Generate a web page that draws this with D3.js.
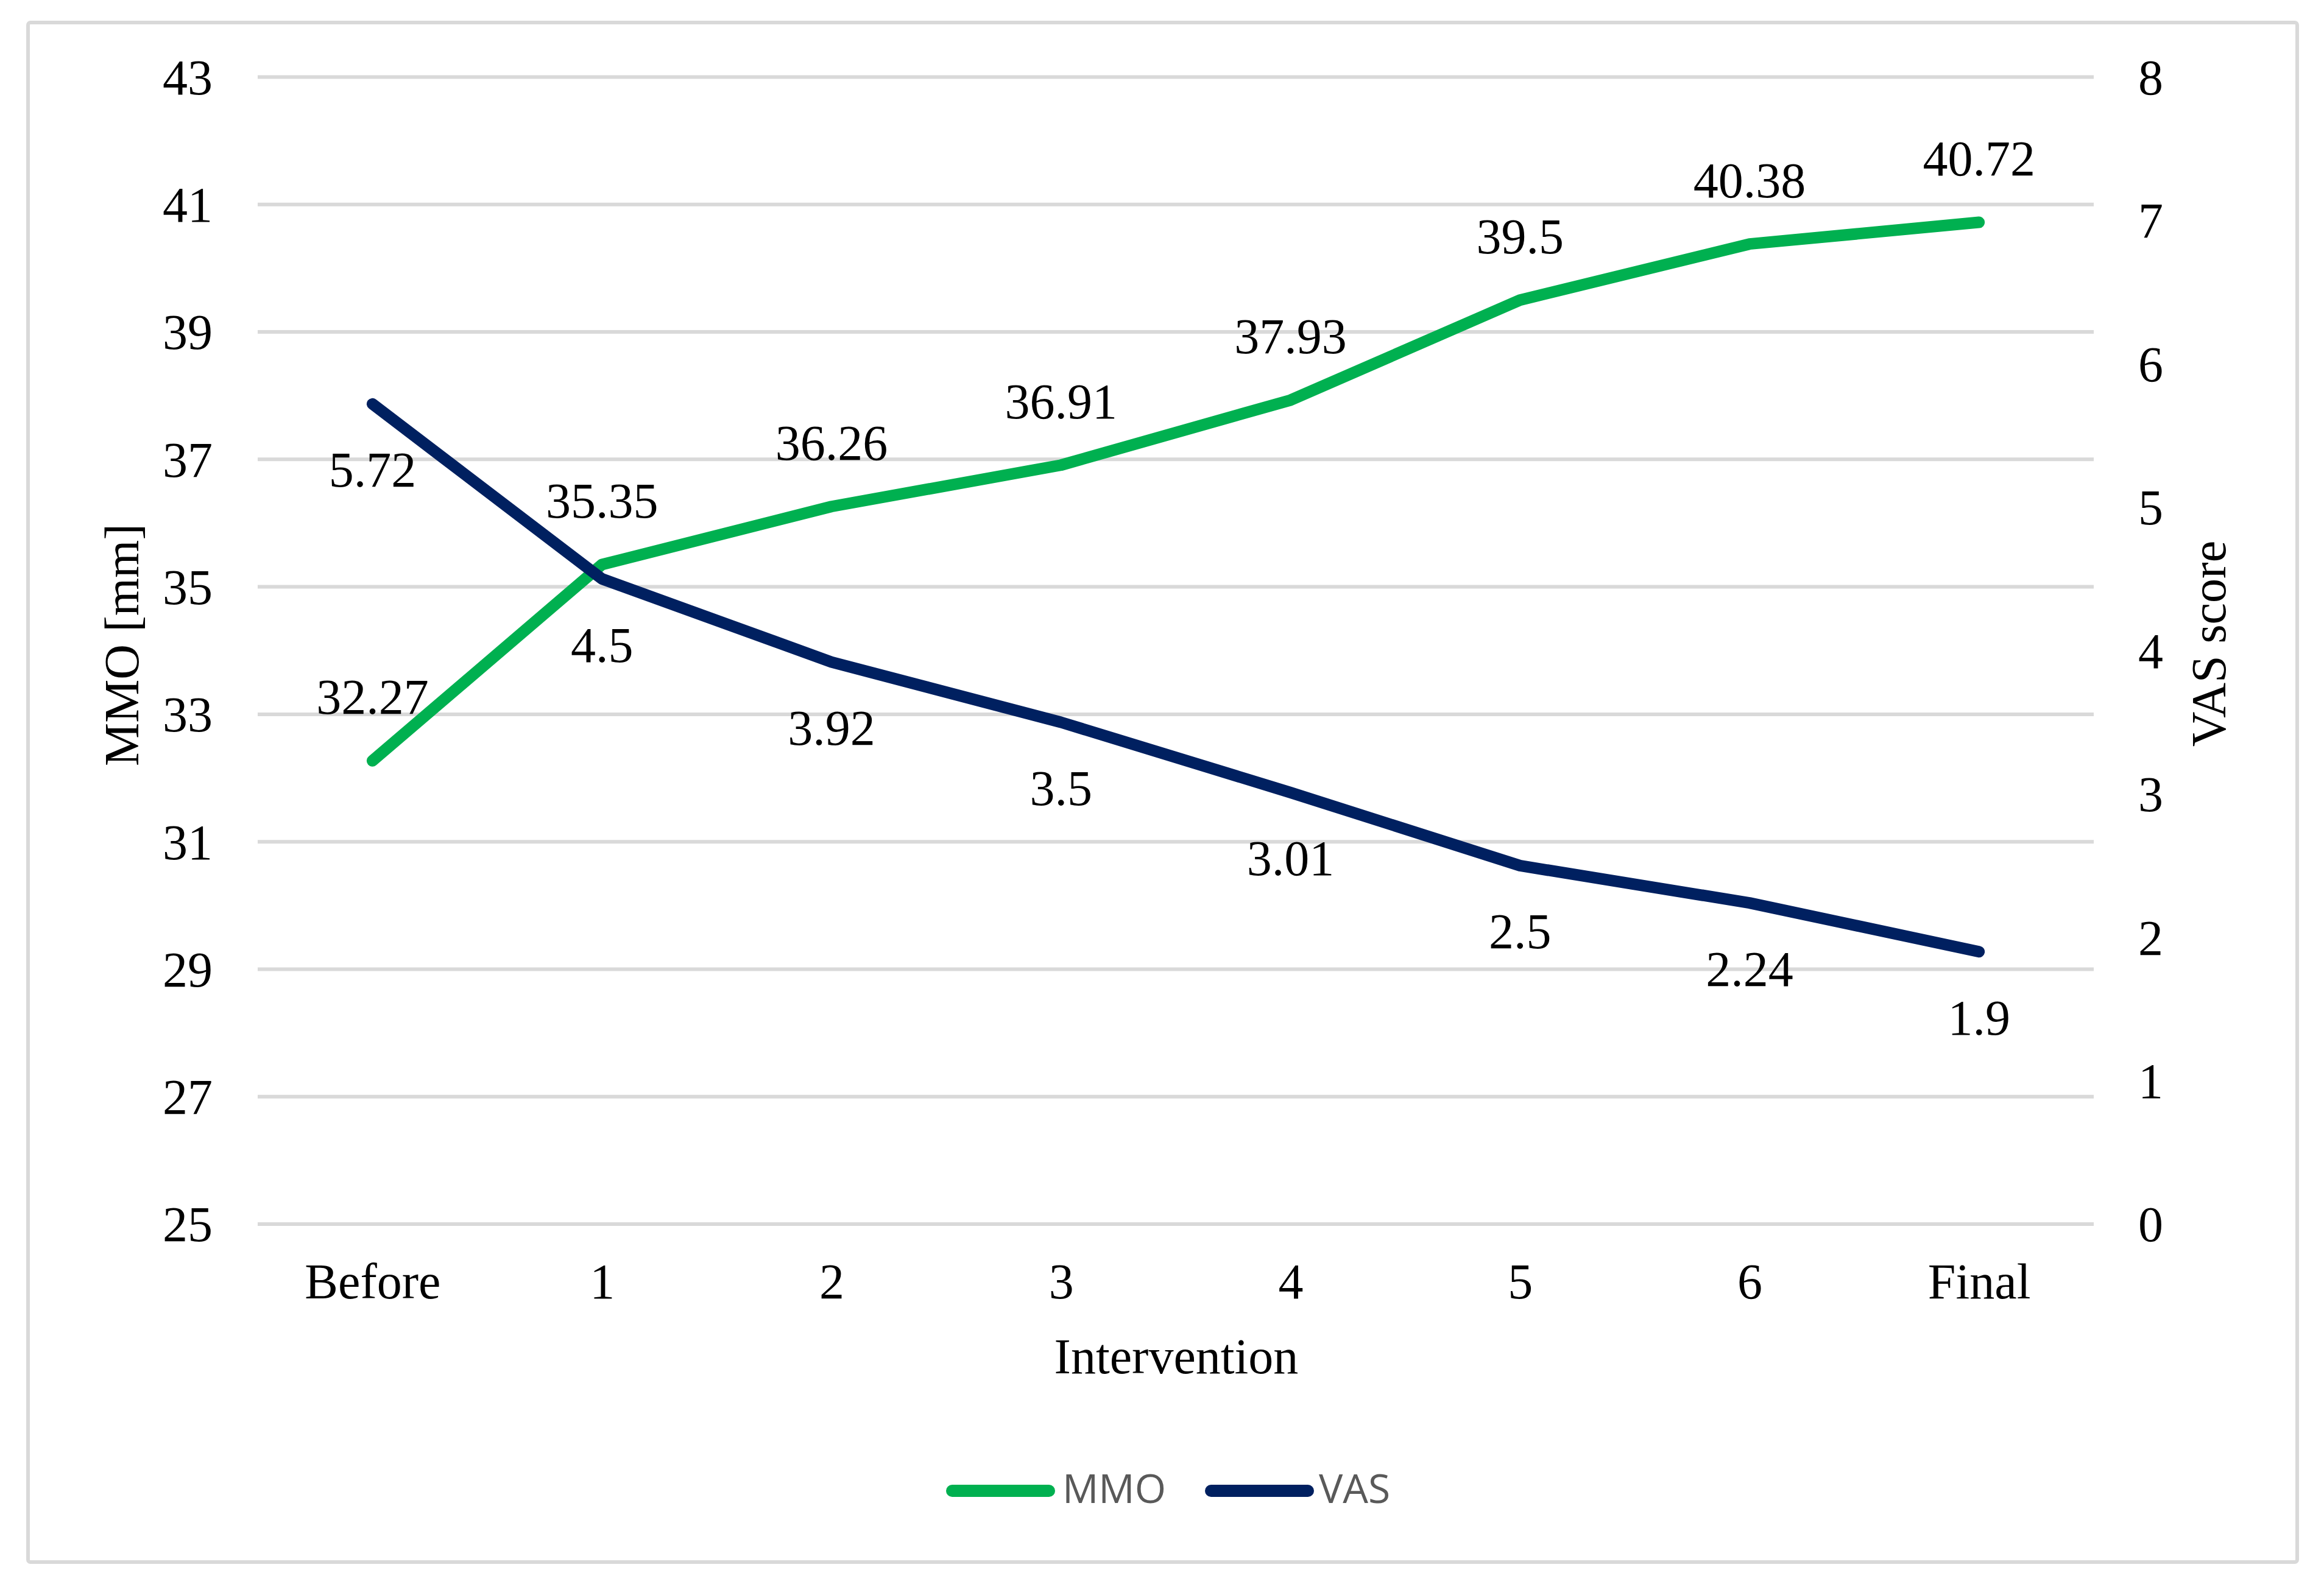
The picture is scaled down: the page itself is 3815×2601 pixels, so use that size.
<!DOCTYPE html>
<html>
<head>
<meta charset="utf-8">
<script src="https://cdn.jsdelivr.net/npm/d3@7"></script>
<style>
html,body{margin:0;padding:0;background:#fff;}
svg{display:block;}
</style>
</head>
<body>
<script>
const categories = ["Before","1","2","3","4","5","6","Final"];
const mmoValues = [32.27,35.35,36.26,36.91,37.93,39.5,40.38,40.72];
const vasValues = [5.72,4.5,3.92,3.5,3.01,2.5,2.24,1.9];
const leftTicks = [25,27,29,31,33,35,37,39,41,43];
const rightTicks = [0,1,2,3,4,5,6,7,8];
const seriesNames = ["MMO","VAS"];

const W = 3815, H = 2601;
const serif = "'Liberation Serif','Times New Roman',serif";
const green = "#00B050", navy = "#002060", grid = "#D9D9D9";

const svg = d3.select("body").append("svg").attr("width", W).attr("height", H);
svg.append("rect").attr("width", W).attr("height", H).attr("fill", "#fff");

// chart border
svg.append("rect").attr("x", 46).attr("y", 37).attr("width", 3725).attr("height", 2528)
  .attr("rx", 4).attr("fill", "none").attr("stroke", grid).attr("stroke-width", 6);

const x = d3.scalePoint().domain(categories).range([423, 3437]).padding(0.5);
const yL = d3.scaleLinear().domain([25, 43]).range([2010, 126.5]);
const yR = d3.scaleLinear().domain([0, 8]).range([2010, 126.5]);

// gridlines
svg.append("g").selectAll("line").data(leftTicks).join("line")
  .attr("x1", 423).attr("x2", 3437)
  .attr("y1", d => yL(d)).attr("y2", d => yL(d))
  .attr("stroke", grid).attr("stroke-width", 6);

// left axis
const gl = svg.append("g").attr("transform", "translate(423,0)")
  .call(d3.axisLeft(yL).tickValues(leftTicks).tickSize(0).tickPadding(74));
gl.select(".domain").remove();
gl.selectAll("text").attr("font-family", serif).attr("font-size", 82).attr("fill", "#000").attr("dy", "0.34em");

// right axis
const gr = svg.append("g").attr("transform", "translate(3437,0)")
  .call(d3.axisRight(yR).tickValues(rightTicks).tickSize(0).tickPadding(73));
gr.select(".domain").remove();
gr.selectAll("text").attr("font-family", serif).attr("font-size", 82).attr("fill", "#000").attr("dy", "0.34em");

// bottom axis
const gb = svg.append("g").attr("transform", "translate(0,2010)")
  .call(d3.axisBottom(x).tickSize(0).tickPadding(64));
gb.select(".domain").remove();
gb.selectAll("text").attr("font-family", serif).attr("font-size", 82).attr("fill", "#000").attr("dy", "0.71em");

// axis titles
svg.append("text").attr("x", 1931).attr("y", 2255).attr("text-anchor", "middle")
  .attr("font-family", serif).attr("font-size", 82).text("Intervention");
svg.append("text").attr("transform", "translate(227,1059) rotate(-90)").attr("text-anchor", "middle")
  .attr("font-family", serif).attr("font-size", 80).text("MMO [mm]");
svg.append("text").attr("transform", "translate(3653,1057) rotate(-90)").attr("text-anchor", "middle")
  .attr("font-family", serif).attr("font-size", 80).text("VAS score");

// lines
const lineL = d3.line().x((d, i) => x(categories[i])).y(d => yL(d));
const lineR = d3.line().x((d, i) => x(categories[i])).y(d => yR(d));
svg.append("path").attr("d", lineL(mmoValues)).attr("fill", "none").attr("stroke", green)
  .attr("stroke-width", 19).attr("stroke-linecap", "round").attr("stroke-linejoin", "round");
svg.append("path").attr("d", lineR(vasValues)).attr("fill", "none").attr("stroke", navy)
  .attr("stroke-width", 19).attr("stroke-linecap", "round").attr("stroke-linejoin", "round");

// data labels
svg.append("g").selectAll("text").data(mmoValues).join("text")
  .attr("x", (d, i) => x(categories[i])).attr("y", d => yL(d) - 77)
  .attr("text-anchor", "middle").attr("font-family", serif).attr("font-size", 82).text(d => d);
svg.append("g").selectAll("text").data(vasValues).join("text")
  .attr("x", (d, i) => x(categories[i])).attr("y", d => yR(d) + 136)
  .attr("text-anchor", "middle").attr("font-family", serif).attr("font-size", 82).text(d => d);

// legend
const legend = [
  {name: seriesNames[0], color: green, x1: 1563, x2: 1722, tx: 1744},
  {name: seriesNames[1], color: navy, x1: 1988, x2: 2147, tx: 2165}
];
const lg = svg.append("g");
legend.forEach(l => {
  lg.append("line").attr("x1", l.x1).attr("x2", l.x2).attr("y1", 2448).attr("y2", 2448)
    .attr("stroke", l.color).attr("stroke-width", 20).attr("stroke-linecap", "round");
  lg.append("text").attr("x", l.tx).attr("y", 2468).attr("font-family", "'Open Sans',sans-serif")
    .attr("font-size", 66).attr("fill", "#595959").text(l.name);
});
</script>
</body>
</html>
